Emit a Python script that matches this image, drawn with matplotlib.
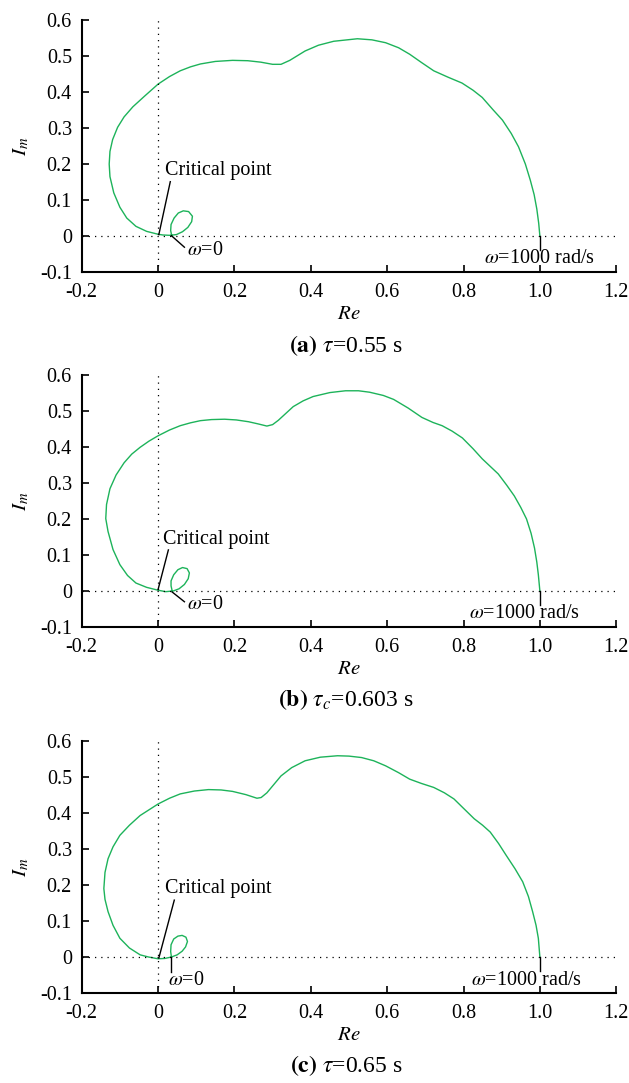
import matplotlib
matplotlib.use("Agg")
import matplotlib.pyplot as plt

plt.rcParams['font.family'] = ['Liberation Serif', 'DejaVu Serif']
plt.rcParams['mathtext.fontset'] = 'stix'

# Nyquist curves, one per delay value
re_a = [0.036, 0.033, 0.034, 0.042, 0.053, 0.066, 0.080, 0.090, 0.088, 0.078, 0.064, 0.048,
        0.030, 0.012, 0.000, -0.030, -0.058, -0.082, -0.100, -0.116, -0.126, -0.128, -0.126,
        -0.119, -0.106, -0.089, -0.066, -0.036, 0.000, 0.030, 0.058, 0.085, 0.111, 0.150,
        0.195, 0.235, 0.269, 0.300, 0.322, 0.345, 0.385, 0.420, 0.460, 0.522, 0.560, 0.596,
        0.630, 0.659, 0.690, 0.722, 0.760, 0.796, 0.825, 0.849, 0.878, 0.902, 0.925, 0.944,
        0.962, 0.975, 0.985, 0.992, 0.997, 1.000]
im_a = [0.000, 0.015, 0.032, 0.050, 0.064, 0.070, 0.068, 0.055, 0.040, 0.024, 0.012, 0.004,
        0.002, 0.003, 0.005, 0.013, 0.027, 0.050, 0.080, 0.120, 0.165, 0.200, 0.235,
        0.268, 0.302, 0.331, 0.359, 0.388, 0.422, 0.443, 0.459, 0.470, 0.478, 0.485,
        0.488, 0.487, 0.483, 0.477, 0.477, 0.488, 0.514, 0.530, 0.541, 0.548, 0.545, 0.537,
        0.523, 0.505, 0.482, 0.459, 0.441, 0.425, 0.405, 0.385, 0.350, 0.322, 0.285, 0.248,
        0.200, 0.155, 0.115, 0.075, 0.035, 0.000]

re_b = [0.037, 0.034, 0.034, 0.041, 0.052, 0.064, 0.076, 0.082, 0.079, 0.069, 0.055, 0.040,
        0.020, 0.000, -0.030, -0.058, -0.080, -0.100, -0.118, -0.131, -0.137, -0.135, -0.126,
        -0.110, -0.089, -0.069, -0.047, -0.024, 0.000, 0.030, 0.058, 0.085, 0.111, 0.140,
        0.174, 0.205, 0.237, 0.262, 0.285, 0.300, 0.315, 0.354, 0.380, 0.406, 0.450, 0.491,
        0.525, 0.554, 0.590, 0.617, 0.655, 0.691, 0.720, 0.744, 0.770, 0.797, 0.825, 0.849,
        0.870, 0.891, 0.913, 0.933, 0.950, 0.965, 0.977, 0.986, 0.992, 0.996, 1.000]
im_b = [0.000, 0.014, 0.028, 0.045, 0.059, 0.065, 0.062, 0.050, 0.034, 0.018, 0.006, 0.000,
        -0.002, 0.002, 0.010, 0.022, 0.043, 0.073, 0.115, 0.165, 0.201, 0.240, 0.284,
        0.322, 0.356, 0.380, 0.399, 0.416, 0.431, 0.447, 0.459, 0.467, 0.473, 0.476,
        0.477, 0.475, 0.470, 0.464, 0.458, 0.462, 0.474, 0.512, 0.528, 0.540, 0.551, 0.556,
        0.556, 0.552, 0.543, 0.532, 0.508, 0.482, 0.468, 0.459, 0.444, 0.425, 0.395, 0.367,
        0.346, 0.325, 0.294, 0.264, 0.232, 0.200, 0.160, 0.119, 0.080, 0.045, 0.000]

re_c = [0.035, 0.033, 0.034, 0.041, 0.052, 0.063, 0.073, 0.077, 0.072, 0.063, 0.050, 0.035,
        0.018, 0.000, -0.025, -0.047, -0.075, -0.100, -0.118, -0.131, -0.139, -0.142, -0.139,
        -0.131, -0.118, -0.100, -0.075, -0.047, -0.022, 0.000, 0.030, 0.058, 0.095, 0.132,
        0.165, 0.195, 0.230, 0.259, 0.270, 0.285, 0.322, 0.350, 0.385, 0.425, 0.470, 0.500,
        0.533, 0.565, 0.596, 0.630, 0.659, 0.690, 0.722, 0.750, 0.775, 0.800, 0.828, 0.850,
        0.870, 0.892, 0.912, 0.935, 0.955, 0.970, 0.981, 0.990, 0.996, 1.000]
im_c = [0.000, 0.015, 0.034, 0.050, 0.058, 0.060, 0.055, 0.043, 0.028, 0.016, 0.006, 0.000,
        -0.004, -0.005, 0.000, 0.006, 0.025, 0.052, 0.088, 0.126, 0.160, 0.190, 0.235,
        0.273, 0.306, 0.338, 0.366, 0.393, 0.410, 0.425, 0.441, 0.453, 0.461, 0.465,
        0.464, 0.460, 0.451, 0.441, 0.443, 0.456, 0.503, 0.526, 0.545, 0.555, 0.559, 0.558,
        0.554, 0.545, 0.531, 0.512, 0.494, 0.482, 0.471, 0.456, 0.439, 0.413, 0.384, 0.366,
        0.347, 0.315, 0.282, 0.245, 0.209, 0.168, 0.126, 0.088, 0.052, 0.000]

captions = [r'$\mathbf{(a)}$ $\tau$=0.55 s', r'$\mathbf{(b)}$ $\tau_c$=0.603 s',
            r'$\mathbf{(c)}$ $\tau$=0.65 s']

xticks = [-0.2, 0, 0.2, 0.4, 0.6, 0.8, 1.0, 1.2]
xticklabels = ['-0.2', '0', '0.2', '0.4', '0.6', '0.8', '1.0', '1.2']
yticks = [-0.1, 0, 0.1, 0.2, 0.3, 0.4, 0.5, 0.6]
yticklabels = ['-0.1', '0', '0.1', '0.2', '0.3', '0.4', '0.5', '0.6']

# annotation anchors per panel
crit_text = [(0.019, 0.183), (0.013, 0.144), (0.019, 0.190)]
crit_line = [((0.032, 0.151), (0.002, 0.004)), ((0.027, 0.114), (0.0, 0.004)),
             ((0.0425, 0.158), (0.002, -0.003))]
w0_text = [(0.077, -0.040), (0.077, -0.038), (0.027, -0.065)]
w0_line = [((0.035, 0.001), (0.069, -0.031)), ((0.037, -0.003), (0.069, -0.030)),
           ((0.035, 0.0), (0.035, -0.042))]
wend_text = [(1.0, -0.062), (0.96, -0.062), (0.965, -0.065)]

green = '#1db35a'
fig = plt.figure(figsize=(6.29, 10.83), dpi=100)
bottoms = [0.7488, 0.4211, 0.0831]
curves = [(re_a, im_a), (re_b, im_b), (re_c, im_c)]

for i in range(3):
    ax = fig.add_axes([0.1299, bottoms[i], 0.8498, 0.2327])
    ax.plot(curves[i][0], curves[i][1], color=green, lw=1.0)
    ax.axhline(0, color='k', lw=0.9, ls=(0, (1, 4)))
    ax.axvline(0, color='k', lw=0.9, ls=(0, (1, 4)))
    ax.set_xlim(-0.2, 1.2)
    ax.set_ylim(-0.1, 0.6)
    ax.set_xticks(xticks)
    ax.set_xticklabels(xticklabels)
    ax.set_yticks(yticks)
    ax.set_yticklabels(yticklabels)
    ax.tick_params(direction='in', length=5, width=1.2, labelsize=14.5)
    ax.tick_params(axis='x', pad=8)
    ax.tick_params(axis='y', pad=7)
    for s in ['top', 'right']:
        ax.spines[s].set_visible(False)
    for s in ['left', 'bottom']:
        ax.spines[s].set_linewidth(1.5)
    ax.set_xlabel(r'$Re$', fontsize=15)
    ax.xaxis.set_label_coords(0.5, -0.13)
    ax.set_ylabel(r'$I_m$', fontsize=15)
    ax.yaxis.set_label_coords(-0.095, 0.5)

    ax.text(crit_text[i][0], crit_text[i][1], 'Critical point', fontsize=14.5,
            ha='left', va='center')
    (x1, y1), (x2, y2) = crit_line[i]
    ax.plot([x1, x2], [y1, y2], color='k', lw=1.0)
    ax.text(w0_text[i][0], w0_text[i][1], r'$\omega$=0', fontsize=14.5,
            ha='left', va='center')
    (x1, y1), (x2, y2) = w0_line[i]
    ax.plot([x1, x2], [y1, y2], color='k', lw=1.0)
    ax.plot([1.0, 1.0], [0.0, -0.04], color='k', lw=1.0)
    ax.text(wend_text[i][0], wend_text[i][1], r'$\omega$=1000 rad/s', fontsize=14.5,
            ha='center', va='center')
    ax.text(0.495, -0.29, captions[i], fontsize=17, ha='center', va='center',
            transform=ax.transAxes)

fig.savefig('out.png', dpi=100)
